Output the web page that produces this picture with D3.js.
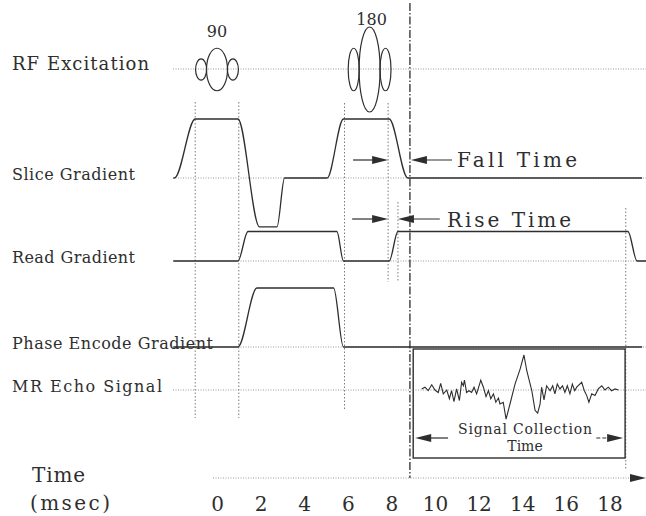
<!DOCTYPE html>
<html>
<head>
<meta charset="utf-8">
<script src="https://cdn.jsdelivr.net/npm/d3@7"></script>
<style>
  body { margin: 0; background: #fff; }
  svg { display: block; font-family: "DejaVu Serif", serif; }
</style>
</head>
<body>
<div id="chart"></div>
<script>
// ── DATA ─────────────────────────────────────────────
const timeTicks = [0, 2, 4, 6, 8, 10, 12, 14, 16, 18];   // msec

const rowLabels = ["RF Excitation", "Slice Gradient", "Read Gradient",
                   "Phase Encode Gradient", "MR Echo Signal"];

// RF pulses: centre time (msec) and flip angle
const rfTimes = [0, 7];
const rfFlips = [90, 180];

// gradient waveforms: corner times (msec) and relative amplitude
const sliceT = [-2, -1.95, -1, 0.96, 1.95, 2.75, 3.1, 5.05, 5.8, 7.9, 8.75, 19.5];
const sliceA = [0, 0, 1, 1, -0.83, -0.83, 0, 0, 1, 1, 0, 0];

const readT = [-2, 0.96, 1.42, 5.5, 5.8, 7.9, 8.3, 18.85, 19.27, 19.7];
const readA = [0, 0, 0.5, 0.5, 0, 0, 0.5, 0.5, 0, 0];

const phaseT = [-2, 0.96, 1.83, 5.35, 5.8, 19.5];
const phaseA = [0, 0, 1, 1, 0, 0];

// MR echo (msec, relative amplitude)
const echoT = [9.39, 9.54, 9.69, 9.85, 10.0, 10.15, 10.26, 10.38, 10.54, 10.66, 10.76, 10.87,
  10.99, 11.12, 11.22, 11.30, 11.35, 11.45, 11.56, 11.68, 11.79, 11.91, 12.10, 12.22, 12.34,
  12.45, 12.56, 12.68, 12.79, 12.91, 12.98, 13.13, 13.26, 13.44, 13.67, 13.90, 14.08, 14.21,
  14.44, 14.59, 14.71, 14.82, 14.89, 15.00, 15.12, 15.28, 15.40, 15.50, 15.61, 15.73, 15.85,
  15.96, 16.07, 16.19, 16.30, 16.41, 16.50, 16.73, 16.85, 16.96, 17.06, 17.19, 17.34, 17.49,
  17.65, 17.80, 17.95, 18.10, 18.26, 18.41];
const echoA = [0.03, 0.08, -0.02, 0.15, 0.00, -0.07, 0.19, -0.11, 0.00, -0.25, -0.02, -0.33,
  0.03, -0.30, 0.22, 0.12, 0.28, -0.07, -0.02, -0.07, 0.08, -0.11, 0.28, 0.08, -0.19,
  -0.02, -0.25, -0.11, -0.35, -0.23, -0.40, -0.35, -0.83, -0.40, 0.17, 0.59, 1.00, 0.55,
  -0.02, -0.58, -0.66, -0.40, 0.08, -0.28, 0.12, -0.02, 0.12, -0.11, 0.17, 0.03, 0.12,
  -0.07, 0.12, -0.11, 0.17, -0.02, 0.08, 0.22, -0.02, -0.16, -0.35, -0.11, -0.16, 0.03,
  0.12, 0.00, 0.08, -0.02, 0.03, 0.00];

// timing marker lines (msec)
const markerT = [-1, 1, 5.85, 7.85, 8.3, 18.75];
const echoCentreT = 8.85;            // dash-dot line
const collectT = [9.0, 18.72];       // signal collection window

// ── LAYOUT ───────────────────────────────────────────
const W = 646, H = 516;
const ink = "#2e2e2e", dotCol = "#9a9a9a";
const rowY = [69, 178, 261, 347, 390];   // baselines
const labelW = [137, 123, 123, 201, 150];
const rfLabelY = [37, 25];
const axisY = 478;

const svg = d3.select("#chart").append("svg")
  .attr("width", W).attr("height", H);

const x = d3.scaleLinear().domain([0, 18]).range([217, 609.4]);
const amp = d3.scaleLinear().domain([0, 1]).range([0, -59]);
const echoAmp = d3.scaleLinear().domain([0, 1]).range([0, -35]);
const rfAmp = d3.scaleLinear().domain([0, 180]).range([0, 42.5]);

// dotted baselines
rowY.forEach(y => {
  svg.append("line")
    .attr("x1", 173).attr("x2", W).attr("y1", y).attr("y2", y)
    .attr("stroke", dotCol).attr("stroke-width", 1)
    .attr("stroke-dasharray", "1,1.5");
});

// row labels
rowLabels.forEach((t, i) => {
  svg.append("text")
    .attr("x", 12).attr("y", rowY[i] + (i === 0 ? 1 : 2))
    .attr("font-size", i === 0 ? 18 : 16)
    .attr("textLength", labelW[i]).attr("lengthAdjust", "spacing")
    .attr("fill", ink).text(t);
});

// marker lines
const markerSpan = [[102, 418], [102, 418], [103, 410], [103, 282], [202, 282], [208, 470]];
markerT.forEach((t, i) => {
  svg.append("line")
    .attr("x1", x(t)).attr("x2", x(t))
    .attr("y1", markerSpan[i][0]).attr("y2", markerSpan[i][1])
    .attr("stroke", "#7a7a7a").attr("stroke-width", 1)
    .attr("stroke-dasharray", "1.5,2");
});
svg.append("line")
  .attr("x1", x(echoCentreT)).attr("x2", x(echoCentreT))
  .attr("y1", 3).attr("y2", axisY)
  .attr("stroke", ink).attr("stroke-width", 1.3)
  .attr("stroke-dasharray", "8,2,1.5,2");

// RF pulses
rfTimes.forEach((t, i) => {
  const ry = rfAmp(rfFlips[i]);
  const g = svg.append("g").attr("fill", "none").attr("stroke", ink).attr("stroke-width", 1.2);
  g.append("ellipse").attr("cx", x(t)).attr("cy", rowY[0] + 0.5).attr("rx", 10.5).attr("ry", ry);
  [-0.73, 0.73].forEach(d => {
    g.append("ellipse").attr("cx", x(t + d)).attr("cy", rowY[0] + 0.5)
      .attr("rx", 5.5).attr("ry", ry / 2);
  });
  svg.append("text")
    .attr("x", x(t) + i * 2).attr("y", rfLabelY[i])
    .attr("text-anchor", "middle").attr("font-size", 16).attr("fill", ink)
    .text(rfFlips[i]);
});

// gradients
const grad = (ts, as, row) => {
  const pts = ts.map((t, i) => [t, as[i]]);
  svg.append("path")
    .attr("d", d3.line().x(d => x(d[0])).y(d => rowY[row] + amp(d[1]))
      .curve(d3.curveMonotoneX)(pts))
    .attr("fill", "none").attr("stroke", ink).attr("stroke-width", 1.3);
};
grad(sliceT, sliceA, 1);
grad(readT, readA, 2);
grad(phaseT, phaseA, 3);

// echo
svg.append("path")
  .attr("d", d3.line().x(d => x(d[0])).y(d => rowY[4] + echoAmp(d[1]))(echoT.map((t, i) => [t, echoA[i]])))
  .attr("fill", "none").attr("stroke", ink).attr("stroke-width", 1.1);

svg.append("rect")
  .attr("x", x(collectT[0])).attr("y", 349)
  .attr("width", x(collectT[1]) - x(collectT[0])).attr("height", 109)
  .attr("fill", "none").attr("stroke", ink).attr("stroke-width", 1.4);

// arrows
function arrow(xTail, xTip, y, dashed) {
  const dir = xTip > xTail ? 1 : -1;
  svg.append("line").attr("x1", xTail).attr("x2", xTip - dir * 10).attr("y1", y).attr("y2", y)
    .attr("stroke", ink).attr("stroke-width", 1.2)
    .attr("stroke-dasharray", dashed ? "4,2" : null);
  svg.append("path")
    .attr("d", `M${xTip},${y}L${xTip - dir * 16},${y - 4}L${xTip - dir * 16},${y + 4}Z`)
    .attr("fill", ink);
}
arrow(x(6.24), x(7.85), 160);
arrow(x(10.78), x(echoCentreT) + 1, 160);
arrow(x(6.2), x(7.85), 219);
arrow(x(10.22), x(8.3), 219);
arrow(x(10.6), x(collectT[0]) + 2, 438);
arrow(x(17.4), x(collectT[1]) - 2, 438, true);

svg.append("text").attr("x", 457).attr("y", 167).attr("font-size", 20)
  .attr("textLength", 120).attr("lengthAdjust", "spacing").attr("fill", ink).text("Fall Time");
svg.append("text").attr("x", 447).attr("y", 227).attr("font-size", 20)
  .attr("textLength", 124).attr("lengthAdjust", "spacing").attr("fill", ink).text("Rise Time");
svg.append("text").attr("x", 458).attr("y", 434).attr("font-size", 14)
  .attr("textLength", 134).attr("lengthAdjust", "spacing").attr("fill", ink).text("Signal Collection");
svg.append("text").attr("x", 525).attr("y", 451).attr("font-size", 14)
  .attr("text-anchor", "middle").attr("fill", ink).text("Time");

// time axis
svg.append("line")
  .attr("x1", 213).attr("x2", 632).attr("y1", axisY).attr("y2", axisY)
  .attr("stroke", dotCol).attr("stroke-width", 1).attr("stroke-dasharray", "1,1.5");
svg.append("path")
  .attr("d", `M646,${axisY}L630,${axisY - 4}L630,${axisY + 4}Z`).attr("fill", ink);

const ax = svg.append("g")
  .attr("transform", `translate(0,${axisY})`)
  .call(d3.axisBottom(x).tickValues(timeTicks).tickSize(0).tickPadding(19));
ax.select(".domain").remove();
ax.selectAll("text").attr("font-size", 20).attr("font-family", "DejaVu Serif, serif").attr("fill", ink);

svg.append("text").attr("x", 32).attr("y", 482).attr("font-size", 20)
  .attr("textLength", 53).attr("lengthAdjust", "spacing").attr("fill", ink).text("Time");
svg.append("text").attr("x", 30).attr("y", 510).attr("font-size", 20)
  .attr("textLength", 80).attr("lengthAdjust", "spacing").attr("fill", ink).text("(msec)");
</script>
</body>
</html>
